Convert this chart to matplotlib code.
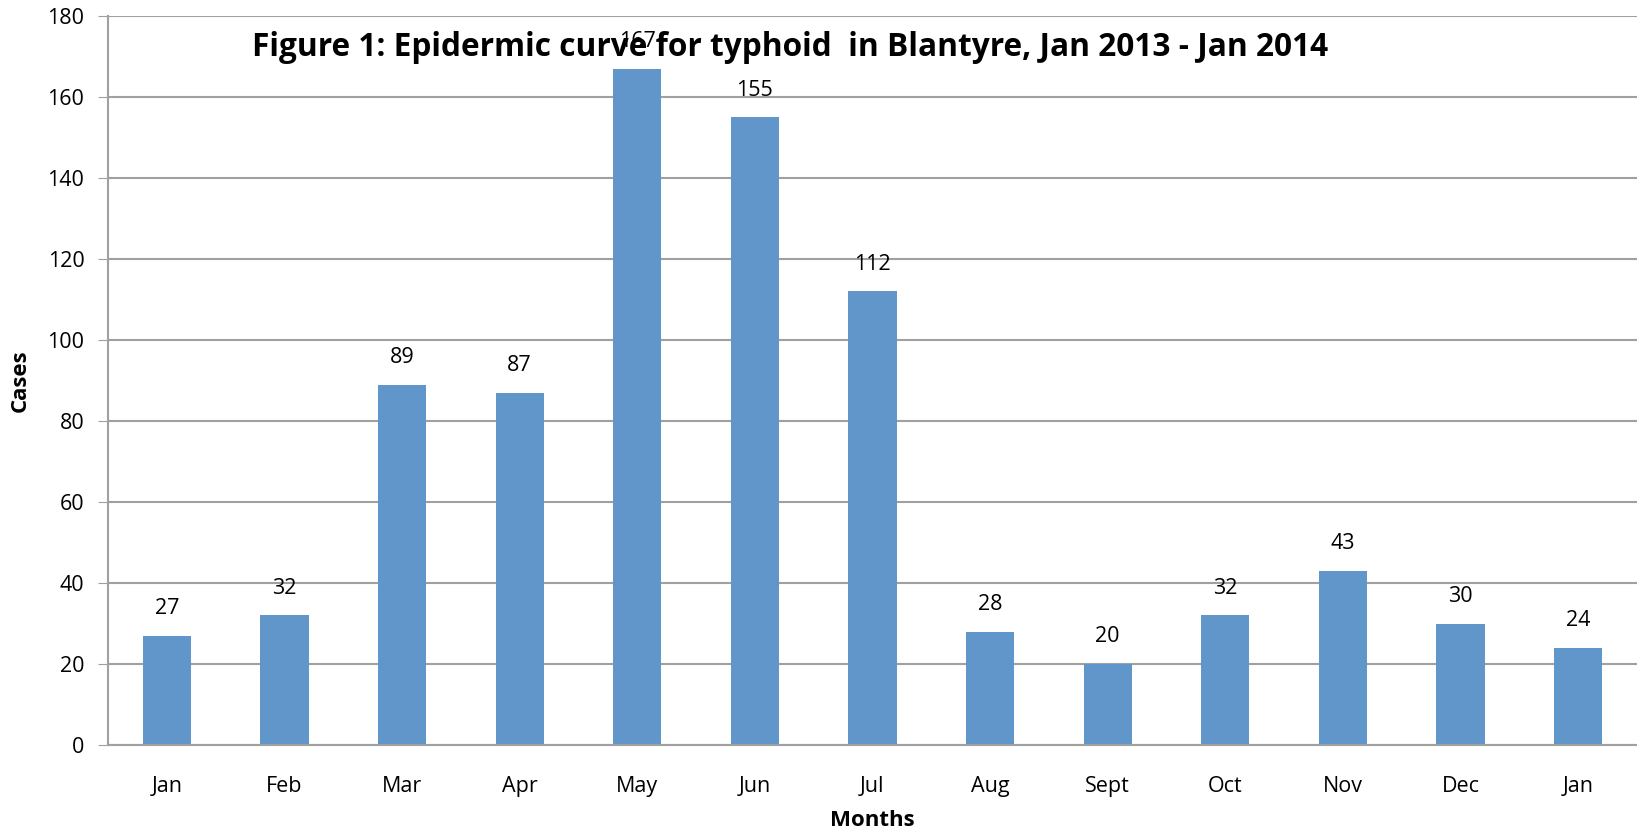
import matplotlib.pyplot as plt
import numpy as np

months = ["Jan", "Feb", "Mar", "Apr", "May", "Jun", "Jul",
          "Aug", "Sept", "Oct", "Nov", "Dec", "Jan"]
cases = [27, 32, 89, 87, 167, 155, 112, 28, 20, 32, 43, 30, 24]

plt.rcParams['font.family'] = ['Open Sans', 'DejaVu Sans']

fig = plt.figure(figsize=(16.37, 8.33), dpi=100)
ax = fig.add_axes([108 / 1637, 1 - 745 / 833, 1529 / 1637, 729 / 833])

x = np.arange(len(months))
barres = ax.bar(x, cases, width=0.41, color="#6096CA", zorder=2)
for xi, v in zip(x, cases):
    ax.annotate(str(v), (xi, v), xytext=(0, 12), textcoords="offset points",
                ha="center", va="bottom", fontsize=15.5)

ax.set_xlim(-0.5, len(months) - 0.5)
ax.set_ylim(0, 180)
ax.set_yticks(range(0, 181, 20))
ax.set_xticks(x)
ax.set_xticklabels(months)
ax.tick_params(axis="y", length=7, color="#A0A0A0", labelsize=15.5, pad=10)
ax.tick_params(axis="x", length=0, labelsize=15.5, pad=22)
ax.grid(axis="y", color="#A0A0A0", linewidth=1.5, zorder=0)

for s in ["top", "right"]:
    ax.spines[s].set_visible(False)
ax.spines["left"].set_color("#A0A0A0")
ax.spines["left"].set_linewidth(1.5)
ax.spines["bottom"].set_color("#A0A0A0")
ax.spines["bottom"].set_linewidth(1.5)

ax.set_xlabel("Months", fontsize=16, fontweight="bold", labelpad=10)
ax.set_ylabel("Cases", fontsize=16, fontweight="bold", labelpad=12)

fig.text(790 / 1637, 1 - 47 / 833, "Figure 1: Epidermic curve for typhoid  in Blantyre, Jan 2013 - Jan 2014",
         ha="center", va="center", fontsize=22.8, fontweight="bold")

fig.savefig("out.png", dpi=100)
